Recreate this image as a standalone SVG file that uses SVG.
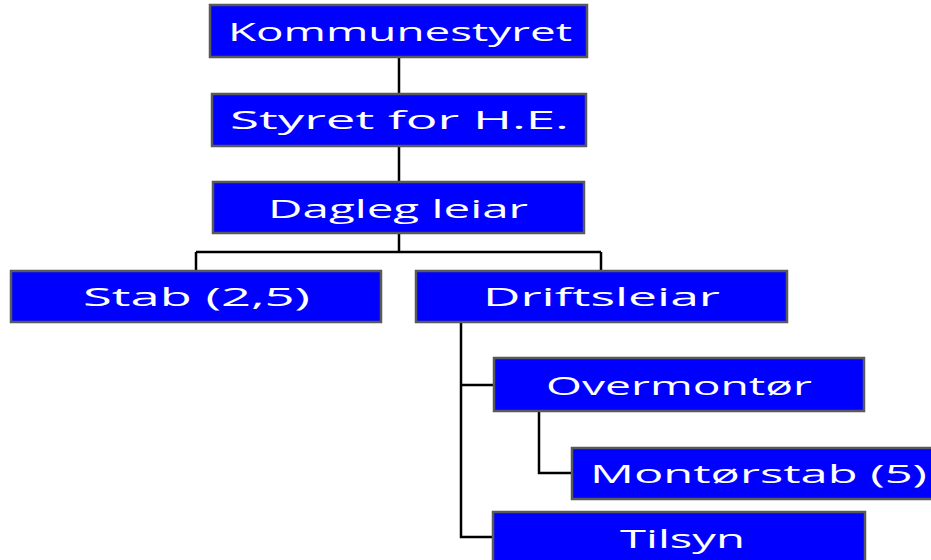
<svg xmlns="http://www.w3.org/2000/svg" width="931" height="560" viewBox="0 0 931 560">
<style>
.box{fill:#0000FF;stroke:#5a5a5a;stroke-width:2.5}
.lbl{fill:#ffffff;font-family:"Comic Sans MS","Open Sans","DejaVu Sans",sans-serif;font-size:26px;text-anchor:middle}
.con{fill:none;stroke:#000;stroke-width:2.5}
</style>
<rect width="931" height="560" fill="#ffffff"/>
<g id="connectors">
<path class="con" d="M399 57V94M399 146V182M399 233V252M196 252H601M196 252V271M601 252V271"/>
<path class="con" d="M461 322V537H493M461 385H494"/>
<path class="con" d="M539 411V473H572"/>
</g>
<g id="kommunestyret"><rect class="box" x="210" y="5" width="377" height="52"/><text class="lbl" x="400" y="41" textLength="344" lengthAdjust="spacingAndGlyphs">Kommunestyret</text></g>
<g id="styret"><rect class="box" x="212" y="94" width="374" height="52"/><text class="lbl" x="399.5" y="129" textLength="339" lengthAdjust="spacingAndGlyphs">Styret for H.E.</text></g>
<g id="dagleg"><rect class="box" x="213" y="182" width="371" height="51"/><text class="lbl" x="398" y="218" textLength="260" lengthAdjust="spacingAndGlyphs">Dagleg leiar</text></g>
<g id="stab"><rect class="box" x="11" y="271" width="370" height="51"/><text class="lbl" x="196.5" y="306" textLength="227" lengthAdjust="spacingAndGlyphs">Stab (2,5)</text></g>
<g id="driftsleiar"><rect class="box" x="416" y="271" width="371" height="51"/><text class="lbl" x="601.5" y="306" textLength="237" lengthAdjust="spacingAndGlyphs">Driftsleiar</text></g>
<g id="overmontor"><rect class="box" x="494" y="358" width="370" height="53"/><text class="lbl" x="679" y="395" textLength="266" lengthAdjust="spacingAndGlyphs">Overmontør</text></g>
<g id="montorstab"><rect class="box" x="572" y="448" width="375" height="51"/><text class="lbl" x="758.5" y="483" textLength="337" lengthAdjust="spacingAndGlyphs">Montørstab (5)</text></g>
<g id="tilsyn"><rect class="box" x="493" y="512" width="372" height="60"/><text class="lbl" x="682.5" y="548" textLength="125" lengthAdjust="spacingAndGlyphs">Tilsyn</text></g>
</svg>
